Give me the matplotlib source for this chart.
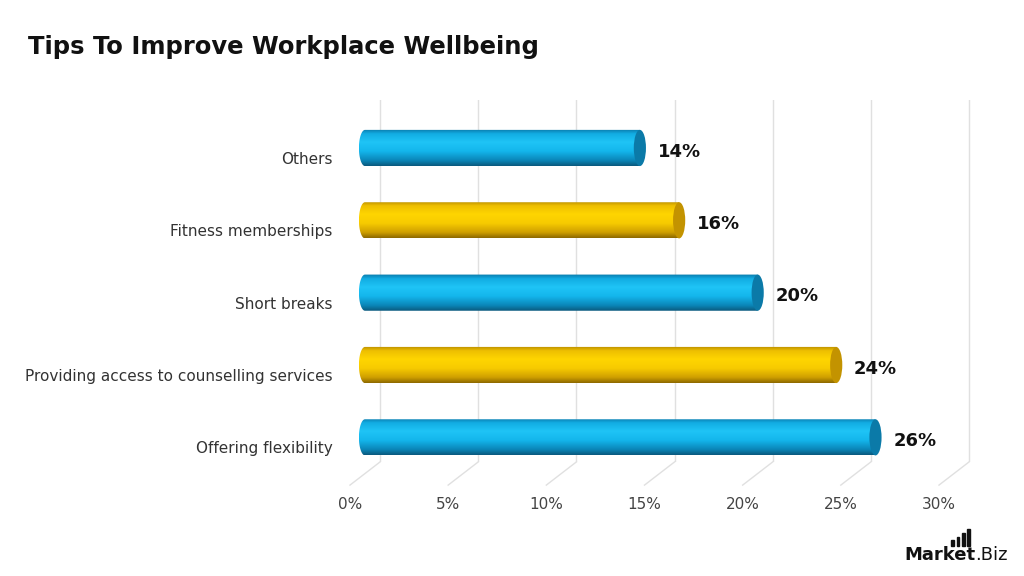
import numpy as np
import matplotlib.pyplot as plt
from matplotlib.colors import LinearSegmentedColormap
from matplotlib.patches import Ellipse, PathPatch, Rectangle
from matplotlib.path import Path

categories = ['Offering flexibility', 'Providing access to counselling services',
              'Short breaks', 'Fitness memberships', 'Others']
values = [26, 24, 20, 16, 14]
colours = ['blue', 'yellow', 'blue', 'yellow', 'blue']
ticks = [0, 5, 10, 15, 20, 25, 30]

# gradients bottom -> top of each cylinder
grad = {
    'blue': LinearSegmentedColormap.from_list('b', [
        (0.0, '#0a5a7e'), (0.15, '#0b86b8'), (0.4, '#14b6ec'),
        (0.65, '#1fc4f6'), (0.88, '#12ace2'), (1.0, '#0a7aab')]),
    'yellow': LinearSegmentedColormap.from_list('y', [
        (0.0, '#8e6a00'), (0.15, '#cf9f00'), (0.4, '#f7cb00'),
        (0.65, '#ffd500'), (0.88, '#eebf00'), (1.0, '#b88c00')]),
}
cap_col = {'blue': '#0b7aa8', 'yellow': '#c39300'}

fig = plt.figure(figsize=(10.24, 5.76), dpi=100)
ax = fig.add_axes([0.3136, 0.198, 0.6423, 0.628])
ax.axis('off')

# depth of the pseudo 3d box in data units
DX, DY = 1.53, 0.32
mx, my = DX / 2, DY / 2
bh = 0.5     # bar thickness
ew = 0.62    # cap ellipse width

for t in ticks:
    ax.plot([t, t], [-0.5, 4.5], color='#e0e0e0', lw=1, zorder=0)
    ax.plot([t, t - DX], [-0.5, -0.5 - DY], color='#e0e0e0', lw=1,
            zorder=0, clip_on=False)
    ax.text(t - DX, -0.5 - DY - 0.27, f'{t}%', ha='center', va='center',
            fontsize=11, color='#444444', clip_on=False)

for i, (cat, v, c) in enumerate(zip(categories, values, colours)):
    yc = i - my
    x0, x1 = -mx, v - mx
    y0, y1 = yc - bh / 2, yc + bh / 2
    th = np.linspace(np.pi / 2, 3 * np.pi / 2, 40)
    verts = [(x1, y0), (x0, y0)]
    verts += [(x0 + ew / 2 * np.cos(a), yc + bh / 2 * np.sin(a)) for a in th[::-1]]
    verts += [(x0, y1), (x1, y1), (x1, y0)]
    clip = PathPatch(Path(verts), transform=ax.transData, fc='none', ec='none')
    ax.add_patch(clip)
    g = np.linspace(0, 1, 100).reshape(-1, 1)
    im = ax.imshow(g, cmap=grad[c], origin='lower', aspect='auto',
                   extent=(x0 - ew / 2, x1, y0, y1), zorder=2)
    im.set_clip_path(clip)
    ax.add_patch(Ellipse((x1, yc), ew, bh, fc=cap_col[c], ec='none', zorder=3))
    ax.text(x1 + ew / 2 + 0.6, yc - 0.05, f'{v}%', ha='left', va='center',
            fontsize=13, fontweight='bold', color='#111111')
    ax.text(-DX - 0.9, i - DY, cat, ha='right', va='center', fontsize=11,
            color='#333333', clip_on=False)

ax.set_xlim(-3, 30.5)
ax.set_ylim(-0.5, 4.5)

fig.text(0.027, 0.918, 'Tips To Improve Workplace Wellbeing', fontsize=17.5,
         fontweight='bold', color='#111111', va='center')

# logo
fig.text(0.883, 0.028, 'Market', fontsize=13, fontweight='bold', color='#111111')
fig.text(0.952, 0.028, '.Biz', fontsize=13, color='#111111')
for k, h in enumerate([0.010, 0.016, 0.022, 0.030]):
    fig.add_artist(Rectangle((0.929 + k * 0.0052, 0.052), 0.0026, h,
                             transform=fig.transFigure, color='#111111'))

fig.savefig('out.png', dpi=100)
